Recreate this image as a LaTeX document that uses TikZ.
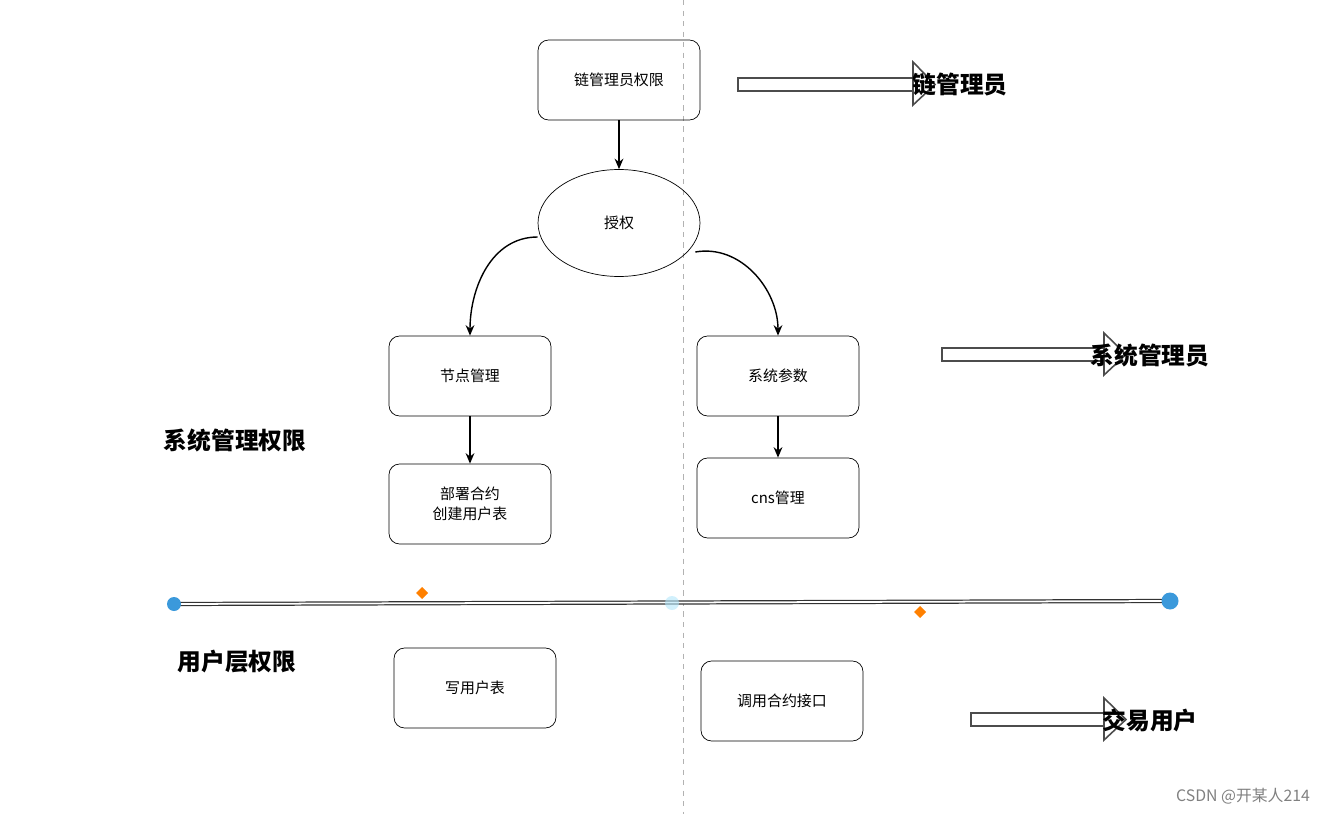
\documentclass[tikz,border=0pt]{standalone}
\usepackage{fontspec}
\setmainfont{Noto Sans CJK SC}
\usetikzlibrary{shapes.geometric,arrows.meta}
\begin{document}
\begin{tikzpicture}[x=0.02cm, y=-0.02cm,
    box/.style = {draw, rounded corners=6pt, minimum width=3.24cm, minimum height=1.6cm, align=center, font=\fontsize{8.5}{11.5}\selectfont},
    oval/.style = {draw, ellipse, minimum width=3.24cm, minimum height=2.14cm, font=\fontsize{8.5}{11.5}\selectfont},
    flow/.style = {-{Stealth[length=6pt,width=5pt]}, thick},
    big/.style = {font=\bfseries\fontsize{13.5}{15}\selectfont},
    hollow/.style = {draw=black!70, fill=white, line width=0.9pt}]
    \useasboundingbox (0,0) rectangle (1335,814);
    % divider
    \draw [dashed, gray!60] (683,0) -- (683,814);
    % nodes
    \node [box] (chain) at (619,80) {链管理员权限};
    \node [oval] (grant) at (619,223) {授权};
    \node [box] (nodes) at (470,376) {节点管理};
    \node [box] (params) at (778,376) {系统参数};
    \node [box] (deploy) at (470,504) {部署合约\\创建用户表};
    \node [box] (cns) at (778,498) {cns管理};
    \node [box] (write) at (475,688) {写用户表};
    \node [box] (call) at (782,701) {调用合约接口};
    \draw [flow] (chain) -- (grant);
    \draw [flow] (grant.west) ++(0,14) coordinate (gl) to[out=180,in=90] (nodes.north);
    \draw [flow] (grant.east) ++(-5,29) coordinate (gr) to[out=10,in=90] (params.north);
    \draw [flow] (nodes) -- (deploy);
    \draw [flow] (params) -- (cns);
    % hollow arrows
    \draw [hollow] (738,78) rectangle (915,91);
    \draw [hollow] (913,62) -- (935,84.5) -- (913,105) -- cycle;
    \draw [hollow] (942,348) rectangle (1106,361);
    \draw [hollow] (1104,333) -- (1126,354.5) -- (1104,375) -- cycle;
    \draw [hollow] (971,713) rectangle (1106,726);
    \draw [hollow] (1104,698) -- (1126,719.5) -- (1104,740) -- cycle;
    \node [big] (lchain) at (960,85) {链管理员};
    \node [big] (lsys) at (1150,355) {系统管理员};
    \node [big] (ltrade) at (1150,720) {交易用户};
    \node [big] (lperm) at (235,440) {系统管理权限};
    \node [big] (luser) at (237,662) {用户层权限};
    % separator
    \coordinate (sa) at (174,604);
    \coordinate (sb) at (1170,601);
    \draw [black!80, line width=2.4pt] (sa) -- (sb);
    \draw [white, line width=1pt] (sa) -- (sb);
    \fill [cyan!70!blue!80] (sa) circle (7);
    \fill [cyan!70!blue!80] (sb) circle (8.5);
    \fill [cyan!30, opacity=0.6] (672,603) circle (7);
    \fill [orange] (422,587) -- (428,593) -- (422,599) -- (416,593) -- cycle;
    \fill [orange] (920,606) -- (926,612) -- (920,618) -- (914,612) -- cycle;
    \node [gray, font=\fontsize{9}{10}\selectfont] (mark) at (1243,796) {CSDN @开某人214};
\end{tikzpicture}
\end{document}
